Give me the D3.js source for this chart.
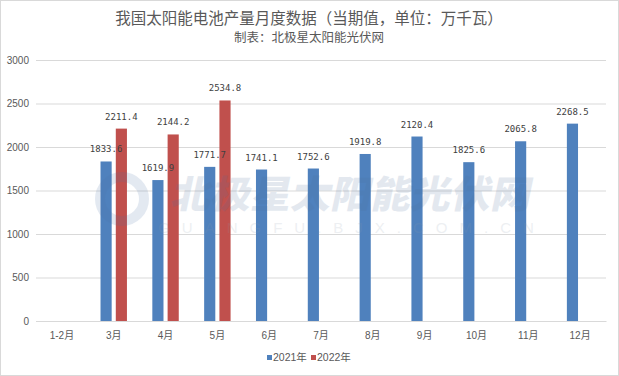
<!DOCTYPE html>
<html>
<head>
<meta charset="utf-8">
<script src="https://cdn.jsdelivr.net/npm/d3@7"></script>
<style>
  html, body { margin: 0; padding: 0; background: #fff; }
  svg { display: block; }
</style>
</head>
<body>
<svg id="chart" width="619" height="376"></svg>
<script>
const categories = ['1-2月','3月','4月','5月','6月','7月','8月','9月','10月','11月','12月'];
const seriesNames = ['2021年','2022年'];
const values2021 = [null, 1833.6, 1619.9, 1771.7, 1741.1, 1752.6, 1919.8, 2120.4, 1825.6, 2065.8, 2268.5];
const values2022 = [null, 2211.4, 2144.2, 2534.8, null, null, null, null, null, null, null];
const yTicks = [0, 500, 1000, 1500, 2000, 2500, 3000];
const colors = ['#4F81BD', '#C0504D'];
const titleText = '我国太阳能电池产量月度数据（当期值，单位：万千瓦）';
const subtitleText = '制表：北极星太阳能光伏网';

const W = 619, H = 376;
const margin = { left: 36, right: 13, top: 60, bottom: 55 };
const svg = d3.select('#chart');

// border
svg.append('rect').attr('x', 0.5).attr('y', 0.5).attr('width', W - 1).attr('height', H - 1)
  .attr('fill', '#fff').attr('stroke', '#d9d9d9');

const x0 = d3.scaleBand().domain(categories).range([margin.left, W - margin.right]).paddingInner(0.49).paddingOuter(0.245);
const x1 = d3.scaleBand().domain(seriesNames).range([0, x0.bandwidth()]).paddingInner(0.27);
const y = d3.scaleLinear().domain([0, 3000]).range([H - margin.bottom, margin.top]);

const sansFont = '"Liberation Sans", "Noto Sans CJK SC", sans-serif';
const cjkFont = '"Noto Sans CJK SC", "Liberation Sans", sans-serif';

// title
svg.append('text').attr('x', 309).attr('y', 24).attr('text-anchor', 'middle')
  .attr('font-family', cjkFont).attr('font-size', 15.5).attr('fill', '#595959').text(titleText);
svg.append('text').attr('x', 309).attr('y', 42).attr('text-anchor', 'middle')
  .attr('font-family', cjkFont).attr('font-size', 12.5).attr('fill', '#595959').text(subtitleText);

// gridlines
const yAxis = d3.axisLeft(y).tickValues(yTicks).tickFormat(d3.format('d'))
  .tickSize(-(W - margin.right - margin.left)).tickPadding(7);
const gy = svg.append('g').attr('transform', `translate(${margin.left},0)`).call(yAxis);
gy.select('.domain').remove();
gy.selectAll('.tick line').attr('stroke', '#d9d9d9');
gy.selectAll('.tick text').attr('font-family', sansFont).attr('font-size', 10).attr('fill', '#595959');

// x axis
const xAxis = d3.axisBottom(x0).tickSize(0).tickPadding(11);
const gx = svg.append('g').attr('transform', `translate(0,${y(0)})`).call(xAxis);
gx.select('.domain').attr('stroke', '#d9d9d9');
gx.selectAll('.tick text').attr('font-family', sansFont).attr('font-size', 10).attr('fill', '#595959');

// bars
const allSeries = [values2021, values2022];
const bars = [];
allSeries.forEach((vals, si) => {
  vals.forEach((v, i) => {
    if (v !== null) bars.push({ cat: categories[i], series: seriesNames[si], si, v });
  });
});

const g = svg.append('g');
g.selectAll('rect.bar').data(bars).enter().append('rect')
  .attr('class', 'bar')
  .attr('x', d => x0(d.cat) + x1(d.series))
  .attr('width', x1.bandwidth())
  .attr('y', d => y(d.v))
  .attr('height', d => y(0) - y(d.v))
  .attr('fill', d => colors[d.si]);

g.selectAll('text.lbl').data(bars).enter().append('text')
  .attr('class', 'lbl')
  .attr('x', d => x0(d.cat) + x1(d.series) + x1.bandwidth() / 2)
  .attr('y', d => y(d.v) - 9)
  .attr('text-anchor', 'middle')
  .attr('font-family', '"DejaVu Sans Mono", monospace')
  .attr('font-size', 9)
  .attr('fill', '#404040')
  .text(d => d3.format('.1f')(d.v));

// watermark
const wm = svg.append('g').attr('opacity', 0.15).attr('pointer-events', 'none');
wm.append('circle').attr('cx', 122).attr('cy', 199).attr('r', 22).attr('fill', 'none')
  .attr('stroke', '#4a72a8').attr('stroke-width', 10);
wm.append('text').attr('x', 352).attr('y', 208).attr('text-anchor', 'middle')
  .attr('font-family', cjkFont).attr('font-size', 38).attr('font-weight', 900)
  .attr('fill', '#4a6e9c')
  .attr('textLength', 360).attr('lengthAdjust', 'spacingAndGlyphs')
  .attr('transform', 'translate(42,0) skewX(-12)')
  .text('北极星太阳能光伏网');
wm.append('text').attr('x', 352).attr('y', 233).attr('text-anchor', 'middle')
  .attr('font-family', sansFont).attr('font-size', 15).attr('letter-spacing', 12)
  .attr('fill', '#8a9aaa').text('GUANGFU.BJX.COM.CN');

// legend
const legend = svg.append('g');
const legendItems = [{ name: seriesNames[0], x: 267 }, { name: seriesNames[1], x: 311 }];
legendItems.forEach((it, i) => {
  legend.append('rect').attr('x', it.x).attr('y', 355).attr('width', 5).attr('height', 5).attr('fill', colors[i]);
  legend.append('text').attr('x', it.x + 6).attr('y', 361).attr('font-family', sansFont)
    .attr('font-size', 10.5).attr('fill', '#595959').text(it.name);
});
</script>
</body>
</html>
